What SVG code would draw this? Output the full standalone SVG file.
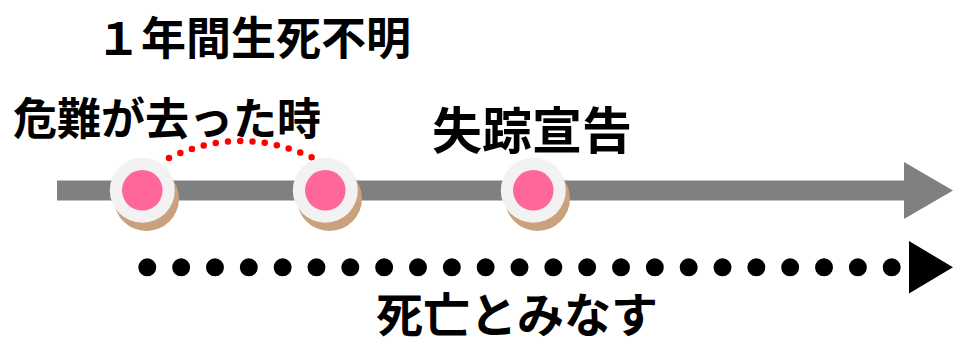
<svg xmlns="http://www.w3.org/2000/svg" width="953" height="345" viewBox="0 0 953 345">
  <style>
    .t { font-family: "Noto Sans CJK JP", "Noto Sans CJK SC", sans-serif; font-weight: 700; fill: #000; }
    .shadow { fill: #C9A17D; }
    .ring { fill: #F2F2F2; }
    .core { fill: #FF6699; }
  </style>
  <rect width="953" height="345" fill="#FFFFFF"/>
  <g id="connectors">
    <polygon id="timeline" points="57,180.5 904,180.5 904,162 953,190.5 904,219 904,200.5 57,200.5" fill="#808080"/>
    <path id="arc" d="M 169 158 Q 241 124 313 158" fill="none" stroke="#FF0000" stroke-width="6.5" stroke-linecap="round" stroke-dasharray="0 12.3"/>
    <line id="dots" x1="147.3" y1="267.3" x2="891.7" y2="267.3" stroke="#000" stroke-width="18" stroke-linecap="round" stroke-dasharray="0 33.836"/>
    <polygon id="dots-head" points="909,241 953,267.3 909,293.5" fill="#000"/>
  </g>
  <g id="node-1">
    <circle class="shadow" cx="146.5" cy="198.5" r="32.5"/>
    <circle class="ring" cx="142.3" cy="190.3" r="32.5"/>
    <circle class="core" cx="142.3" cy="190.3" r="20.3"/>
  </g>
  <g id="node-2">
    <circle class="shadow" cx="329.5" cy="198.5" r="32.5"/>
    <circle class="ring" cx="325.3" cy="190.3" r="32.5"/>
    <circle class="core" cx="325.3" cy="190.3" r="20.3"/>
  </g>
  <g id="node-3">
    <circle class="shadow" cx="537.5" cy="198.5" r="32.5"/>
    <circle class="ring" cx="533.3" cy="190.3" r="32.5"/>
    <circle class="core" cx="533.3" cy="190.3" r="20.3"/>
  </g>
  <g id="labels">
    <text class="t" x="96" y="55" font-size="45">１年間生死不明</text>
    <text class="t" x="13" y="135" font-size="44">危難が去った時</text>
    <text class="t" x="432" y="149" font-size="50">失踪宣告</text>
    <text class="t" x="376" y="332" font-size="47">死亡とみなす</text>
  </g>
</svg>
